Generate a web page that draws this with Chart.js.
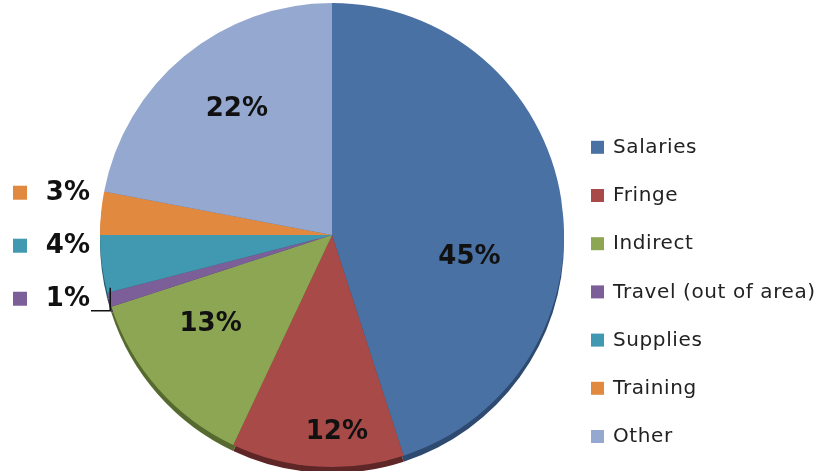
<!DOCTYPE html>
<html>
<head>
<meta charset="utf-8">
<script src="https://cdn.jsdelivr.net/npm/chart.js@4/dist/chart.umd.min.js"></script>
<style>
    html, body { margin: 0; padding: 0; background: #fff; }
    #budgetChart { display: block; }
</style>
</head>
<body>
<canvas id="budgetChart" width="840" height="471"></canvas>
<script>
const categories = ['Salaries', 'Fringe', 'Indirect', 'Travel (out of area)', 'Supplies', 'Training', 'Other'];
const shares = [45, 12, 13, 1, 4, 3, 22];
const sliceColors = ['#4A71A4', '#A84A48', '#8DA653', '#7C5E98', '#4099B0', '#E18A3F', '#95A8D0'];
const edgeColors = ['#2E4A70', '#5E2626', '#56692F', '#4C3A60', '#24606E', '#8C5424', '#5E6E90'];
const outsideSlices = ['Travel (out of area)', 'Supplies', 'Training'];

// where Excel put the labels inside the pie (radius fraction, turn in degrees)
const labelSpots = {
    'Salaries': { r: 0.6, turn: 18 },
    'Fringe': { r: 0.85, turn: -5 },
    'Indirect': { r: 0.65, turn: 5 },
    'Other': { r: 0.68, turn: 2.5 }
};

const labelFont = 'bold 26px "DejaVu Sans", Verdana, sans-serif';
const legendFont = '20px "DejaVu Sans", Verdana, sans-serif';

const pieEdge = {
    id: 'pieEdge',
    beforeDatasetsDraw(chart) {
        const ctx = chart.ctx;
        const arcs = chart.getDatasetMeta(0).data;
        ctx.save();
        arcs.forEach((arc, i) => {
            const p = arc.getProps(['x', 'y', 'startAngle', 'endAngle', 'outerRadius'], true);
            ctx.beginPath();
            ctx.moveTo(p.x, p.y + 6);
            ctx.arc(p.x, p.y + 6, p.outerRadius, p.startAngle, p.endAngle);
            ctx.closePath();
            ctx.fillStyle = edgeColors[i];
            ctx.fill();
        });
        ctx.restore();
    }
};

const pieLabels = {
    id: 'pieLabels',
    afterDatasetsDraw(chart) {
        const ctx = chart.ctx;
        const arcs = chart.getDatasetMeta(0).data;
        const area = chart.chartArea;
        ctx.save();
        ctx.font = labelFont;
        ctx.fillStyle = '#111';
        ctx.textBaseline = 'middle';

        // inside labels
        arcs.forEach((arc, i) => {
            const name = categories[i];
            if (outsideSlices.includes(name)) return;
            const p = arc.getProps(['x', 'y', 'startAngle', 'endAngle', 'outerRadius'], true);
            const spot = labelSpots[name] || { r: 0.65, turn: 0 };
            const a = (p.startAngle + p.endAngle) / 2 + spot.turn * Math.PI / 180;
            ctx.textAlign = 'center';
            ctx.fillText(shares[i] + '%', p.x + Math.cos(a) * p.outerRadius * spot.r,
                p.y + Math.sin(a) * p.outerRadius * spot.r);
        });

        // outside labels on the left, stacked so they do not collide
        const outside = [];
        arcs.forEach((arc, i) => {
            if (!outsideSlices.includes(categories[i])) return;
            const p = arc.getProps(['x', 'y', 'startAngle', 'endAngle', 'outerRadius'], true);
            const a = (p.startAngle + p.endAngle) / 2;
            outside.push({ i, p, a, y: p.y + Math.sin(a) * p.outerRadius });
        });
        outside.sort((m, n) => n.y - m.y);
        let lastY = Infinity;
        outside.forEach(o => {
            o.ly = Math.min(o.y, lastY - 53);
            lastY = o.ly;
        });
        outside.forEach(o => {
            const right = area.left - 6;
            ctx.textAlign = 'right';
            ctx.fillStyle = '#111';
            ctx.fillText(shares[o.i] + '%', right, o.ly);
            ctx.fillStyle = sliceColors[o.i];
            ctx.fillRect(13, o.ly - 8, 14, 14);
            if (o.ly === o.y) {
                // leader from label to its slice
                const ex = o.p.x + Math.cos(o.a) * o.p.outerRadius;
                ctx.strokeStyle = '#111';
                ctx.lineWidth = 1.5;
                ctx.beginPath();
                ctx.moveTo(right + 1, o.ly + 11);
                ctx.lineTo(ex + 1, o.ly + 11);
                ctx.lineTo(ex + 1, o.y - 12);
                ctx.stroke();
            }
        });
        ctx.restore();
    }
};

const pieLegend = {
    id: 'pieLegend',
    afterDraw(chart) {
        const ctx = chart.ctx;
        const x = chart.chartArea.right + 23;
        const rowGap = 48.2;
        const bottomRow = chart.chartArea.bottom - 30;
        ctx.save();
        ctx.font = legendFont;
        ctx.letterSpacing = '0.6px';
        ctx.textBaseline = 'middle';
        ctx.textAlign = 'left';
        categories.forEach((name, i) => {
            const y = bottomRow - (categories.length - 1 - i) * rowGap;
            ctx.fillStyle = sliceColors[i];
            ctx.fillRect(x, y - 7, 13, 13);
            ctx.fillStyle = '#222';
            ctx.fillText(name, x + 22, y);
        });
        ctx.restore();
    }
};

const ctx = document.getElementById('budgetChart').getContext('2d');
new Chart(ctx, {
    type: 'pie',
    data: {
        labels: categories,
        datasets: [{
            data: shares,
            backgroundColor: sliceColors,
            borderWidth: 0
        }]
    },
    options: {
        responsive: false,
        animation: false,
        layout: { padding: { left: 96, right: 272, top: 3, bottom: 4 } },
        plugins: {
            legend: { display: false },
            tooltip: { enabled: false }
        }
    },
    plugins: [pieEdge, pieLabels, pieLegend]
});
</script>
</body>
</html>
